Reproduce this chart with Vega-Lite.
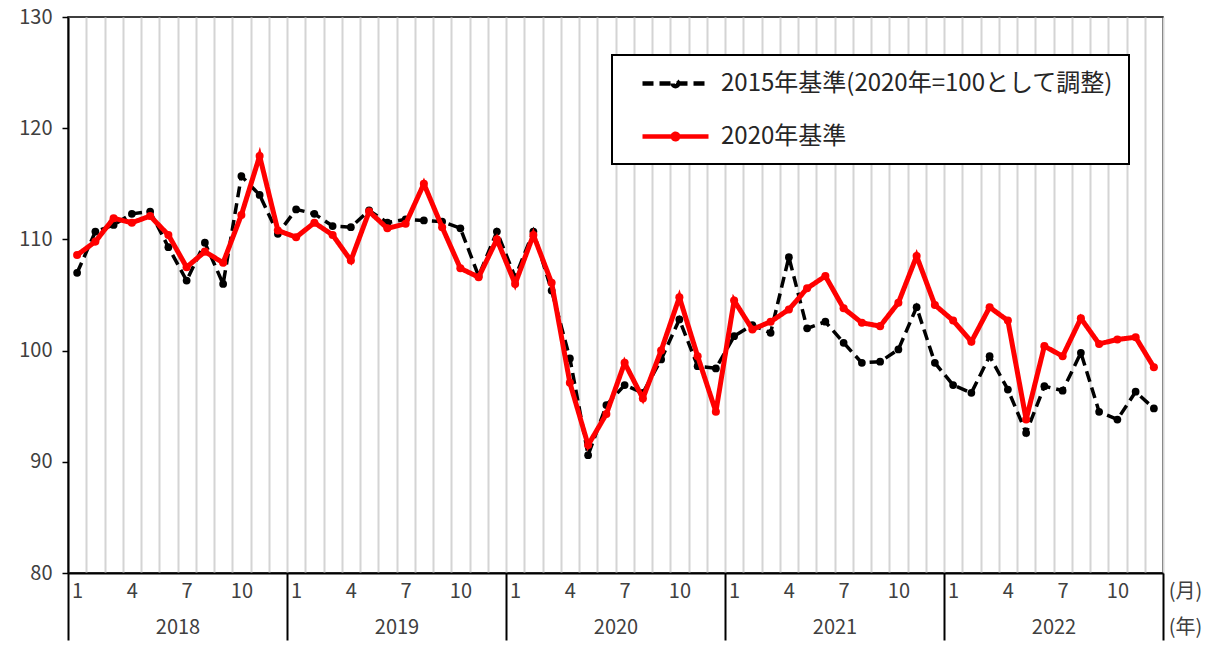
{
  "$schema": "https://vega.github.io/schema/vega-lite/v6.json",
  "width": 1095,
  "height": 556,
  "autosize": {"type": "none"},
  "padding": {"left": 68, "top": 17, "right": 50, "bottom": 72},
  "background": "white",
  "config": {
    "font": "Noto Sans CJK JP",
    "view": {"stroke": "black", "strokeWidth": 1.5}
  },
  "datasets": {
    "old": [
      {"t": 0, "value": 107.0}, {"t": 1, "value": 110.7}, {"t": 2, "value": 111.3}, {"t": 3, "value": 112.3},
      {"t": 4, "value": 112.5}, {"t": 5, "value": 109.3}, {"t": 6, "value": 106.3}, {"t": 7, "value": 109.7},
      {"t": 8, "value": 106.0}, {"t": 9, "value": 115.7}, {"t": 10, "value": 114.0}, {"t": 11, "value": 110.5},
      {"t": 12, "value": 112.7}, {"t": 13, "value": 112.3}, {"t": 14, "value": 111.2}, {"t": 15, "value": 111.1},
      {"t": 16, "value": 112.6}, {"t": 17, "value": 111.5}, {"t": 18, "value": 111.8}, {"t": 19, "value": 111.7},
      {"t": 20, "value": 111.6}, {"t": 21, "value": 111.0}, {"t": 22, "value": 106.7}, {"t": 23, "value": 110.7},
      {"t": 24, "value": 106.6}, {"t": 25, "value": 110.7}, {"t": 26, "value": 105.4}, {"t": 27, "value": 99.3},
      {"t": 28, "value": 90.6}, {"t": 29, "value": 95.1}, {"t": 30, "value": 96.9}, {"t": 31, "value": 96.2},
      {"t": 32, "value": 99.2}, {"t": 33, "value": 102.8}, {"t": 34, "value": 98.6}, {"t": 35, "value": 98.4},
      {"t": 36, "value": 101.3}, {"t": 37, "value": 102.3}, {"t": 38, "value": 101.6}, {"t": 39, "value": 108.4},
      {"t": 40, "value": 102.0}, {"t": 41, "value": 102.6}, {"t": 42, "value": 100.7}, {"t": 43, "value": 98.9},
      {"t": 44, "value": 99.0}, {"t": 45, "value": 100.1}, {"t": 46, "value": 103.9}, {"t": 47, "value": 98.9},
      {"t": 48, "value": 96.9}, {"t": 49, "value": 96.2}, {"t": 50, "value": 99.5}, {"t": 51, "value": 96.5},
      {"t": 52, "value": 92.6}, {"t": 53, "value": 96.8}, {"t": 54, "value": 96.4}, {"t": 55, "value": 99.8},
      {"t": 56, "value": 94.5}, {"t": 57, "value": 93.8}, {"t": 58, "value": 96.3}, {"t": 59, "value": 94.8}
    ],
    "new": [
      {"t": 0, "value": 108.6}, {"t": 1, "value": 109.8}, {"t": 2, "value": 111.9}, {"t": 3, "value": 111.5},
      {"t": 4, "value": 112.1}, {"t": 5, "value": 110.4}, {"t": 6, "value": 107.5}, {"t": 7, "value": 108.9},
      {"t": 8, "value": 107.9}, {"t": 9, "value": 112.2}, {"t": 10, "value": 117.5}, {"t": 11, "value": 110.8},
      {"t": 12, "value": 110.2}, {"t": 13, "value": 111.5}, {"t": 14, "value": 110.4}, {"t": 15, "value": 108.1},
      {"t": 16, "value": 112.5}, {"t": 17, "value": 111.0}, {"t": 18, "value": 111.4}, {"t": 19, "value": 115.0},
      {"t": 20, "value": 111.1}, {"t": 21, "value": 107.4}, {"t": 22, "value": 106.6}, {"t": 23, "value": 110.0},
      {"t": 24, "value": 106.0}, {"t": 25, "value": 110.4}, {"t": 26, "value": 106.1}, {"t": 27, "value": 97.1},
      {"t": 28, "value": 91.5}, {"t": 29, "value": 94.3}, {"t": 30, "value": 98.9}, {"t": 31, "value": 95.7},
      {"t": 32, "value": 100.0}, {"t": 33, "value": 104.8}, {"t": 34, "value": 99.5}, {"t": 35, "value": 94.5},
      {"t": 36, "value": 104.5}, {"t": 37, "value": 101.9}, {"t": 38, "value": 102.6}, {"t": 39, "value": 103.7},
      {"t": 40, "value": 105.6}, {"t": 41, "value": 106.7}, {"t": 42, "value": 103.8}, {"t": 43, "value": 102.5},
      {"t": 44, "value": 102.2}, {"t": 45, "value": 104.3}, {"t": 46, "value": 108.5}, {"t": 47, "value": 104.1},
      {"t": 48, "value": 102.7}, {"t": 49, "value": 100.8}, {"t": 50, "value": 103.9}, {"t": 51, "value": 102.7},
      {"t": 52, "value": 93.8}, {"t": 53, "value": 100.4}, {"t": 54, "value": 99.5}, {"t": 55, "value": 102.9},
      {"t": 56, "value": 100.6}, {"t": 57, "value": 101.0}, {"t": 58, "value": 101.2}, {"t": 59, "value": 98.5}
    ]
  },
  "encoding": {
    "x": {
      "field": "t",
      "type": "quantitative",
      "scale": {"domain": [-0.5, 59.5], "nice": false, "zero": false},
      "axis": {
        "values": [-0.5,0,0.5,1,1.5,2,2.5,3,3.5,4,4.5,5,5.5,6,6.5,7,7.5,8,8.5,9,9.5,10,10.5,11,11.5,12,12.5,13,13.5,14,14.5,15,15.5,16,16.5,17,17.5,18,18.5,19,19.5,20,20.5,21,21.5,22,22.5,23,23.5,24,24.5,25,25.5,26,26.5,27,27.5,28,28.5,29,29.5,30,30.5,31,31.5,32,32.5,33,33.5,34,34.5,35,35.5,36,36.5,37,37.5,38,38.5,39,39.5,40,40.5,41,41.5,42,42.5,43,43.5,44,44.5,45,45.5,46,46.5,47,47.5,48,48.5,49,49.5,50,50.5,51,51.5,52,52.5,53,53.5,54,54.5,55,55.5,56,56.5,57,57.5,58,58.5,59,59.5],
        "grid": true,
        "gridColor": "#d4d4d4",
        "gridWidth": 2,
        "gridOpacity": {"condition": {"test": "datum.value % 1 != 0", "value": 1}, "value": 0},
        "domainColor": "black",
        "domainWidth": 2,
        "tickColor": "black",
        "tickWidth": 2,
        "tickSize": 67,
        "tickOpacity": {"condition": {"test": "(datum.value + 0.5) % 12 == 0", "value": 1}, "value": 0},
        "labelPadding": -59,
        "labelBaseline": "top",
        "labelLineHeight": 36,
        "labelFontSize": 20,
        "labelColor": "#404040",
        "labelOverlap": false,
        "labelFlush": false,
        "labelBound": false,
        "labelExpr": "datum.value % 1 == 0 ? ((datum.value % 3 == 0) ? '' + (datum.value % 12 + 1) : '') : ((datum.value - 5.5) % 12 == 0 ? ['', '' + (2018 + floor(datum.value / 12))] : '')",
        "title": ["(月)", "(年)"],
        "titleX": 1117,
        "titleY": 8,
        "titleAlign": "center",
        "titleBaseline": "top",
        "titleLineHeight": 36,
        "titleFontSize": 20,
        "titleFontWeight": "normal",
        "titleColor": "#404040"
      }
    },
    "y": {
      "field": "value",
      "type": "quantitative",
      "scale": {"domain": [80, 130], "nice": false, "zero": false},
      "axis": {
        "values": [80, 90, 100, 110, 120, 130],
        "grid": false,
        "domainColor": "black",
        "domainWidth": 2,
        "tickColor": "black",
        "tickWidth": 1.5,
        "tickSize": 6,
        "labelPadding": 10,
        "labelFontSize": 20,
        "labelColor": "#404040",
        "title": null
      }
    }
  },
  "layer": [
    {
      "data": {"name": "old"},
      "mark": {"type": "line", "strokeWidth": 3.5},
      "encoding": {
        "color": {
          "datum": "2015年基準(2020年=100として調整)", "type": "nominal",
          "scale": {"domain": ["2015年基準(2020年=100として調整)", "2020年基準"], "range": ["#000000", "#ff0000"]},
          "legend": {"orient": "none", "legendX": 544, "legendY": 38, "title": null, "padding": 15, "strokeColor": "black", "fillColor": "white", "labelFontSize": 24, "labelColor": "#262626", "labelLimit": 800, "rowPadding": 27, "symbolType": "M-3,0H3M-0.25,0A0.25,0.25,0,1,0,0.25,0A0.25,0.25,0,1,0,-0.25,0", "symbolSize": 484, "symbolStrokeWidth": 4.5, "symbolOffset": 35, "labelOffset": 32, "encode": {"legend": {"update": {"strokeWidth": {"value": 2}}}}}
        },
        "strokeDash": {
          "datum": "2015年基準(2020年=100として調整)", "type": "nominal",
          "scale": {"domain": ["2015年基準(2020年=100として調整)", "2020年基準"], "range": [[11, 6], [1, 0]]},
          "legend": {"orient": "none", "legendX": 544, "legendY": 38, "title": null, "padding": 15, "strokeColor": "black", "fillColor": "white", "labelFontSize": 24, "labelColor": "#262626", "labelLimit": 800, "rowPadding": 27, "symbolType": "M-3,0H3M-0.25,0A0.25,0.25,0,1,0,0.25,0A0.25,0.25,0,1,0,-0.25,0", "symbolSize": 484, "symbolStrokeWidth": 4.5, "symbolOffset": 35, "labelOffset": 32, "encode": {"legend": {"update": {"strokeWidth": {"value": 2}}}}}
        }
      }
    },
    {
      "data": {"name": "old"},
      "mark": {"type": "circle", "size": 60, "color": "#000000", "opacity": 1}
    },
    {
      "data": {"name": "new"},
      "mark": {"type": "line", "strokeWidth": 5},
      "encoding": {
        "color": {"datum": "2020年基準", "type": "nominal"},
        "strokeDash": {"datum": "2020年基準", "type": "nominal"}
      }
    },
    {
      "data": {"name": "new"},
      "mark": {"type": "circle", "size": 65, "color": "#ff0000", "opacity": 1}
    }
  ]
}
